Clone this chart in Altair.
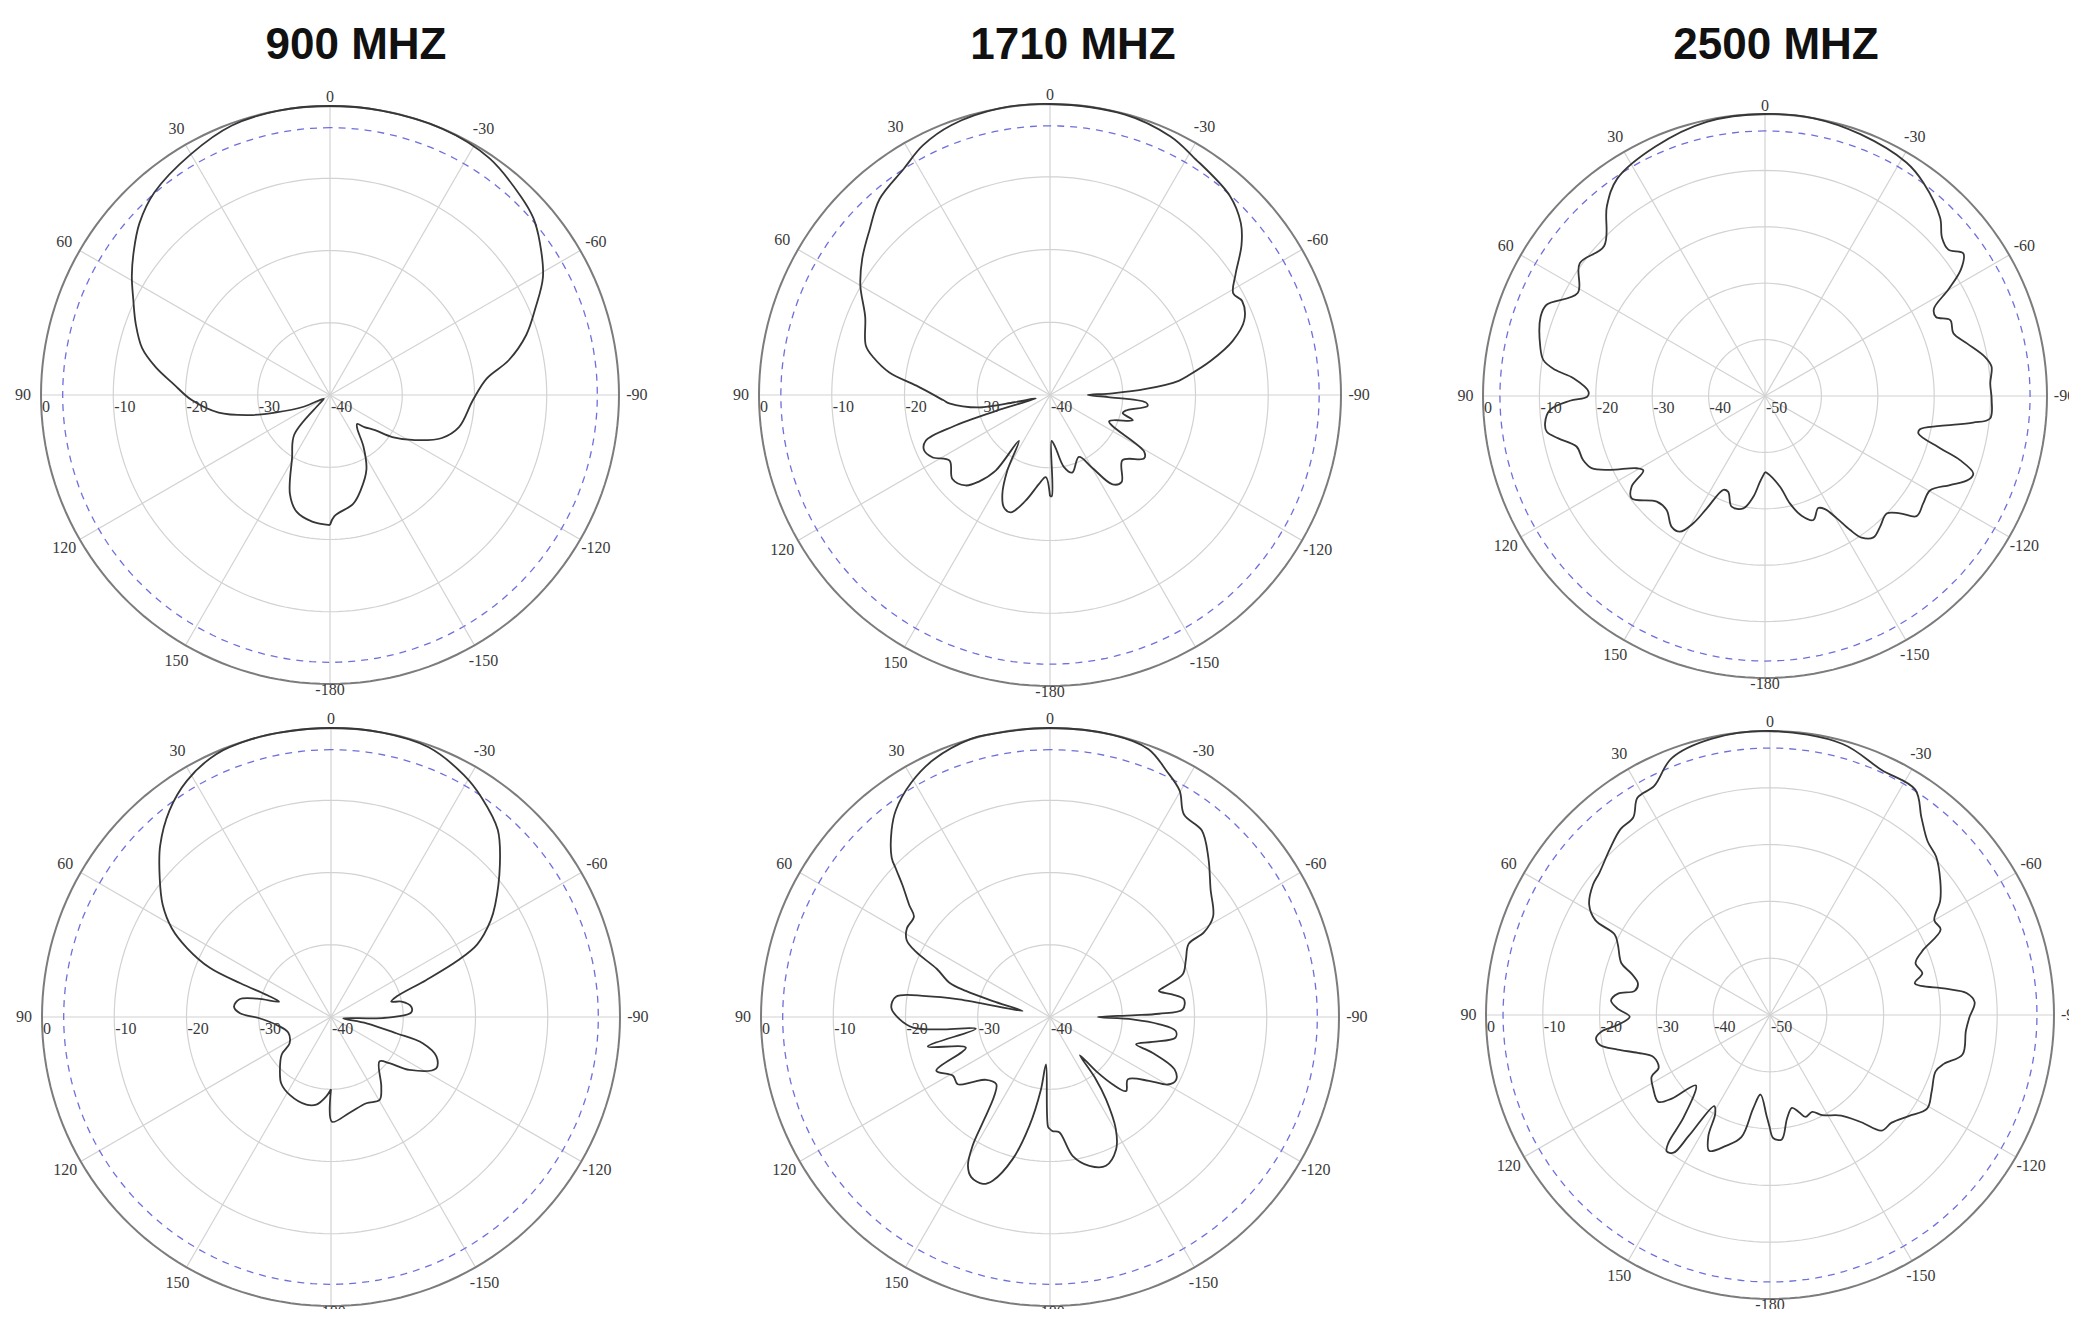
import altair as alt
import pandas as pd

# ---------------- data (angle in degrees, gain in dB) ----------------
TITLES = ["900 MHZ", "1710 MHZ", "2500 MHZ"]

P900_TOP = [(-180,-22),(-178,-23.2),(-168,-24.6),(-162,-26.2),(-154,-28.5),(-147,-31.5),(-141,-34),(-137,-34.5),
            (-133,-33.5),(-128,-32.1),(-124,-29.6),(-118,-26.7),(-111,-23.4),(-104,-21.6),(-92,-20.2),(-84,-18.2),
            (-79,-14.8),(-73,-11.6),(-67,-9.1),(-61,-6.3),(-54,-4.1),(-49,-2.7),(-44,-1.9),(-34,-0.5),(-23,0),
            (-10,0),(0,0),(10,0),(20,-0.3),(30,-1.5),(41,-2.9),(48,-4.5),(54,-6.4),(59,-8),(64,-9.7),(70,-11.4),
            (76,-13.2),(81,-15.6),(86,-18.3),(92,-20.8),(99,-24.4),(104,-28.5),(108,-32.2),(114,-36),(121,-39),
            (130,-38),(138,-32.6),(149,-29.8),(158,-25.2),(164,-23.2),(172,-22.3),(180,-22)]

P1710_TOP = [(-180,-26.1),(-179,-26.1),(-178,-33.7),(-174,-32.7),(-169,-29.9),(-164,-28.9),(-155,-30.6),(-150,-28.5),
             (-145,-25),(-140.6,-24.5),(-132,-26.6),(-124,-24.4),(-121,-24.9),(-114,-31.1),(-107,-28.1),(-104,-29.7),
             (-101.7,-29.4),(-96.3,-26.5),(-94.4,-26.8),(-92,-32),(-90,-34.8),(-88.5,-31.4),(-86.4,-26.8),
             (-83.7,-22.2),(-82,-20.8),(-78,-17.4),(-73.5,-13.8),(-69,-11.4),(-64,-10.6),(-61,-11.2),(-57,-9.6),
             (-52,-6.6),(-48,-4.7),(-42,-3.1),(-31,-1.8),(-25,-0.8),(-15,-0.1),(0,0),(10,0),(20,-0.5),(27,-1.5),
             (33,-3),(41,-4.3),(47.6,-6.4),(54,-8.1),(60,-9.9),(67,-12.4),(75,-13.8),(78,-15.2),(82,-17.7),
             (86,-21.6),(92.7,-25.3),(94.7,-26.1),(99.9,-30.1),(101.5,-35),(103.5,-38),(106.5,-32),(108,-26),
             (110.2,-21.8),(113.6,-21.1),(117.9,-21.7),(123.2,-23.5),(130.7,-22.3),(137,-23),(140.6,-24.6),
             (144.3,-27.2),(145.8,-32.4),(150.6,-28),(154.3,-24.9),(157.7,-23.3),(161.5,-23),(167,-25.1),
             (173,-27.7),(177,-28.7),(180,-26.1)]

P2500_TOP = [(-180,-36.5),(-178.8,-36.4),(-170.6,-33.7),(-166.9,-30.4),(-163,-27.8),(-158.7,-26.4),(-154.6,-28),
             (-152.1,-27.3),(-149.6,-24.9),(-147.6,-21.9),(-145.7,-19.6),(-142.5,-18.4),(-138.7,-19.1),(-134,-20),
             (-131,-18.3),(-128.4,-15.7),(-124.1,-16.1),(-119.8,-16.3),(-115.7,-13.6),(-112.4,-11),(-110.4,-10.6),
             (-108.2,-13.6),(-106.6,-17.6),(-103.7,-22),(-102.1,-21.9),(-99.7,-18.5),(-97.3,-12.8),(-95.7,-9.9),
             (-91,-9.8),(-86.8,-10),(-82.6,-9.5),(-79.9,-10.4),(-75.4,-13),(-71.6,-14.8),(-67.7,-14.5),(-65.2,-16.6),
             (-62.7,-16.3),(-59.8,-12.3),(-57.1,-8.6),(-54.3,-6.7),(-51.4,-8.4),(-48.2,-7.9),(-44.5,-5.7),
             (-36.6,-2.9),(-31.2,-1.6),(-20,-0.6),(-10,0),(0,0),(12,-0.3),(23.8,-1.7),(34.2,-3.4),(39.8,-6.2),
             (47,-11),(54.4,-9.6),(61.2,-12.1),(67.4,-8),(70.5,-7.8),(77.6,-9.2),(80.8,-10.2),(82.9,-12.5),
             (84.7,-15.9),(88.6,-18.7),(90.2,-18.5),(91.4,-15.4),(93.7,-11.8),(97.1,-10.7),(99.3,-10.8),
             (101.6,-12.6),(105,-15.4),(109.4,-15.8),(112.6,-16.7),(115.5,-19.6),(119.4,-23.9),(121.5,-24.7),
             (124.2,-21.4),(127.5,-20.2),(134.3,-23.2),(139.2,-23.3),(144.5,-21.5),(147.9,-21.6),(150.6,-24.1),
             (152.6,-27.5),(156.1,-31.8),(159,-31.8),(163.2,-29.5),(169.1,-29.7),(173.4,-32),(176.7,-34.8),
             (180,-36.5)]

P900_BOT = [(-180,-30),(-179.5,-25.5),(-169,-26.5),(-157.7,-27.1),(-149.6,-26.7),(-144.2,-28.1),(-132.5,-30.9),
            (-128.3,-29.7),(-124,-26.9),(-116,-23.8),(-110.6,-24.4),(-106,-26.8),(-104,-30.7),(-100,-35),
            (-96,-38.3),(-91.7,-33.7),(-89.7,-31),(-86.9,-28.9),(-82.7,-28.8),(-77.7,-30),(-75.7,-31.4),
            (-72.7,-30.5),(-68.8,-25.9),(-66,-20.8),(-63.6,-17.4),(-58.9,-14.2),(-55.7,-12.5),(-48.1,-8.6),
            (-41.7,-5.3),(-34.6,-3.2),(-28.8,-1.8),(-19.9,-0.3),(-10,0),(0,0),(10,0),(16,0),(23.6,-0.3),
            (31.4,-1.7),(38,-3.7),(44.9,-6.5),(50.8,-9.4),(56.3,-12),(60.9,-14.8),(64.4,-17.9),(67.9,-21.9),
            (69.6,-26.7),(71.1,-30.7),(73.5,-32.5),(76,-29.5),(79,-27.1),(83.9,-26.5),(87.7,-27.4),(91,-30.1),
            (98.3,-32.4),(110,-33.7),(122.5,-33.2),(127.4,-31.4),(137.7,-29.5),(143.2,-28.5),(152.1,-27.8),
            (164.3,-27.4),(170.5,-27.7),(176.6,-29),(180,-30)]

P1710_BOT = [(-180,-24.5),(-178.7,-24.2),(-175.4,-24),(-170.7,-20.5),(-165.2,-18.7),(-159.4,-18),(-153.5,-19.5),
             (-149.6,-22),(-145.8,-26.2),(-143.5,-29.5),(-142,-33.3),(-139.5,-30),(-137.1,-27.3),(-134.2,-25.3),
             (-128.7,-26.2),(-122.8,-23.7),(-119.8,-21.2),(-116.6,-20.5),(-112.8,-21.3),(-109.2,-25),
             (-107.6,-27.5),(-103.7,-25.4),(-99.3,-22.4),(-96.3,-22.5),(-93.8,-24.8),(-91.6,-28.6),(-90,-33.4),
             (-88.8,-28.6),(-88.3,-24.9),(-86.7,-21.6),(-82.5,-21.3),(-79.5,-22.8),(-76.6,-24.5),(-75,-23.4),
             (-72.2,-20.7),(-67.2,-19.6),(-62.2,-18.3),(-61.2,-15.7),(-58.4,-13.5),(-51.5,-11.6),(-44.8,-8.9),
             (-39.1,-6.7),(-33.5,-6.4),(-29.8,-3.9),(-25.3,-2.3),(-20.2,-0.5),(-12.5,0),(0,0),(12,0),(16,0),
             (24.3,-0.9),(30.6,-2.3),(36.7,-4.3),(40.3,-6.1),(44.8,-8.9),(46.2,-10.5),(48.2,-12.6),(51.5,-15.1),
             (53.6,-16.6),(58.2,-16.7),(61.8,-17.5),(64.1,-19.4),(67,-23),(71.2,-25.3),(72.8,-27.8),(74.4,-31.8),
             (77.6,-36.1),(79,-27.2),(80.4,-22.6),(82.5,-18.5),(86.6,-18),(90.9,-19.2),(94.4,-21),(96.6,-25.1),
             (99,-29.6),(103.6,-22.6),(110,-27.6),(115.3,-22.6),(121.2,-24.3),(126.1,-24.2),(130,-26),
             (134.5,-27.6),(141.3,-28.1),(144.8,-26.6),(147.5,-22.7),(149,-19.2),(151.1,-16.5),(153.8,-15.3),
             (158.1,-15.1),(160.7,-16),(165.3,-19.7),(169.3,-24.7),(172.9,-29.9),(175.2,-33.4),(179,-24.8),
             (180,-24.5)]

P2500_BOT = [(-180,-30),(-178.4,-28.3),(-174.6,-28),(-170.7,-31.5),(-166.7,-33.2),(-163.5,-32.2),(-160.8,-31),
             (-156.5,-31.4),(-152.4,-30.1),(-144.7,-28.3),(-139.6,-25.2),(-136,-21.7),(-131.5,-21.4),
             (-126.1,-19.8),(-120.8,-17.8),(-115.4,-18.5),(-108.8,-19.2),(-105.7,-18.2),(-101.6,-15.4),
             (-94.6,-15.4),(-90.7,-14.9),(-86.4,-13.9),(-83.6,-15.2),(-81.5,-18.7),(-77.7,-23.9),(-74.7,-22.2),
             (-70.4,-22.8),(-67.3,-21),(-63.4,-16.4),(-60,-16.6),(-56.1,-13.9),(-51.7,-11.8),(-46.4,-9.6),
             (-42.2,-8.7),(-37.5,-6.2),(-32.8,-2.8),(-24.5,-2.6),(-15,-0.6),(0,0),(12,-0.3),(21,-1.6),(26.8,-4.8),
             (31.4,-5.2),(34.7,-7.7),(38.8,-8),(44,-9.4),(50.2,-10.9),(53.6,-11.3),(58.6,-12.7),(61.5,-15),
             (62.6,-19.2),(65.2,-20.5),(70.8,-22.3),(73.3,-24.5),(76.6,-26.1),(79.9,-25.8),(82,-23),(84.8,-21.9),
             (87.7,-23.2),(90.7,-25.3),(93.7,-23.2),(95.4,-20.4),(97.6,-19.1),(100,-19.6),(102.8,-22.5),
             (106,-25.8),(109.9,-28.2),(115.4,-28.3),(117.5,-26.5),(122.2,-25.7),(127.9,-25.1),(130.4,-27.3),
             (133.5,-32),(139.8,-26.5),(141.5,-21.3),(142.8,-19.9),(145,-20.4),(146.1,-24.4),(148.5,-31.2),
             (151,-30.1),(153,-26.1),(155.9,-23.8),(161.4,-25.7),(166.8,-27.9),(169.8,-33.3),(173.2,-35.9),
             (178,-32.3),(180,-30)]

PATTERNS = [P900_TOP, P1710_TOP, P2500_TOP, P900_BOT, P1710_BOT, P2500_BOT]
PANELS = ["p1", "p2", "p3", "p4", "p5", "p6"]
FLOORS = [-40, -40, -50, -40, -40, -50]
ANGLE_LABELS = ["0", "30", "60", "90", "120", "150", "-180", "-150", "-120", "-90", "-60", "-30"]
SPOKES = list(range(0, 360, 30))

# ---------------- layout (chart pixel space) ----------------
W, H = 2061, 1301
CX = [322, 1042, 1757, 323, 1042, 1762]
CY = [387, 387, 388, 1009, 1009, 1007]
RAD = [289, 291, 282, 289, 289, 284]
TITLE_X = [348, 1065, 1768]
TITLE_Y = 38

panel_df = pd.DataFrame({"panel": PANELS, "cx": CX, "cy": CY, "R": RAD, "floor": FLOORS})

curve_rows = []
for p, pts in zip(PANELS, PATTERNS):
    for i, (a, d) in enumerate(pts):
        curve_rows.append({"panel": p, "ang": a, "db": d, "seq": i})
curves = pd.DataFrame(curve_rows)

circle_angles = list(range(0, 361, 2))
ring_rows, outer_rows, dash_rows = [], [], []
for p, fl in zip(PANELS, FLOORS):
    for lev in range(-10, fl, -10):
        for i, a in enumerate(circle_angles):
            ring_rows.append({"panel": p, "key": f"{p}{lev}", "ang": a, "db": lev, "seq": i})
    for i, a in enumerate(circle_angles):
        outer_rows.append({"panel": p, "key": p, "ang": a, "db": 0, "seq": i})
        dash_rows.append({"panel": p, "key": p, "ang": a, "db": -3, "seq": i})
rings = pd.DataFrame(ring_rows)
outer = pd.DataFrame(outer_rows)
dashc = pd.DataFrame(dash_rows)

spokes = pd.DataFrame([{"panel": p, "ang": a, "db": 0} for p in PANELS for a in SPOKES])
alabels = pd.DataFrame([{"panel": p, "ang": float(t), "db": 0, "label": t} for p in PANELS for t in ANGLE_LABELS])
rlabels = pd.DataFrame([{"panel": p, "ang": 90, "db": lev, "label": str(lev)}
                        for p, fl in zip(PANELS, FLOORS) for lev in range(0, fl - 1, -10)])
titles = pd.DataFrame({"title": TITLES, "tx": TITLE_X, "ty": [TITLE_Y] * 3})

XS = alt.Scale(domain=[0, W], nice=False, zero=False)
YS = alt.Scale(domain=[0, H], nice=False, zero=False, reverse=True)


def polar(ch, fac="1"):
    return ch.transform_lookup(
        lookup="panel",
        from_=alt.LookupData(panel_df, "panel", ["cx", "cy", "R", "floor"]),
    ).transform_calculate(
        rr="datum.R * (max(datum.db, datum.floor) - datum.floor) / (-datum.floor) * (" + fac + ")",
    ).transform_calculate(
        px="datum.cx - datum.rr * sin(datum.ang * PI / 180)",
        py="datum.cy - datum.rr * cos(datum.ang * PI / 180)",
    )


def circ_layer(df, **mk):
    return polar(alt.Chart(df).mark_line(**mk)).encode(
        x=alt.X("px:Q", scale=XS, axis=None),
        y=alt.Y("py:Q", scale=YS, axis=None),
        detail="key:N",
        order=alt.Order("seq:Q"),
    )


ring_layer = circ_layer(rings, color="#d2d2d2", strokeWidth=1.2)
dash_layer = circ_layer(dashc, color="#6f6fdc", strokeWidth=1.3, strokeDash=[7, 6])
outer_layer = circ_layer(outer, color="#7c7c7c", strokeWidth=2)

spoke_layer = polar(alt.Chart(spokes).mark_rule(color="#d2d2d2", strokeWidth=1.2)).encode(
    x=alt.X("px:Q", scale=XS, axis=None),
    y=alt.Y("py:Q", scale=YS, axis=None),
    x2="cx:Q",
    y2="cy:Q",
)

curve_layer = polar(alt.Chart(curves).mark_line(color="#363636", strokeWidth=1.8,
                                                interpolate="catmull-rom")).encode(
    x=alt.X("px:Q", scale=XS, axis=None),
    y=alt.Y("py:Q", scale=YS, axis=None),
    detail="panel:N",
    order=alt.Order("seq:Q"),
)

alabel_layer = polar(
    alt.Chart(alabels).mark_text(font="Liberation Serif", fontSize=16, color="#3a3a3a",
                                 align="center", baseline="middle"),
    fac="(datum.ang == 0) ? 1.03 : ((abs(datum.ang) == 180) ? 1.022 : 1.062)",
).encode(
    x=alt.X("px:Q", scale=XS, axis=None),
    y=alt.Y("py:Q", scale=YS, axis=None),
    text="label:N",
)

rlabel_layer = polar(
    alt.Chart(rlabels).mark_text(font="Liberation Serif", fontSize=16, color="#3a3a3a",
                                 align="left", baseline="middle", dx=1, dy=12),
).encode(
    x=alt.X("px:Q", scale=XS, axis=None),
    y=alt.Y("py:Q", scale=YS, axis=None),
    text="label:N",
)

title_layer = alt.Chart(titles).mark_text(font="Liberation Sans", fontSize=44, fontWeight="bold",
                                          color="#111111", align="center", baseline="middle").encode(
    x=alt.X("tx:Q", scale=XS, axis=None),
    y=alt.Y("ty:Q", scale=YS, axis=None),
    text="title:N",
)

chart = alt.layer(
    ring_layer, spoke_layer, dash_layer, outer_layer, curve_layer, alabel_layer, rlabel_layer, title_layer
).properties(
    width=W, height=H, padding=0, autosize=alt.AutoSizeParams(type="none"), background="white"
).configure_view(stroke=None)

chart.save("out.html", embed_options={"renderer": "svg", "actions": False})
